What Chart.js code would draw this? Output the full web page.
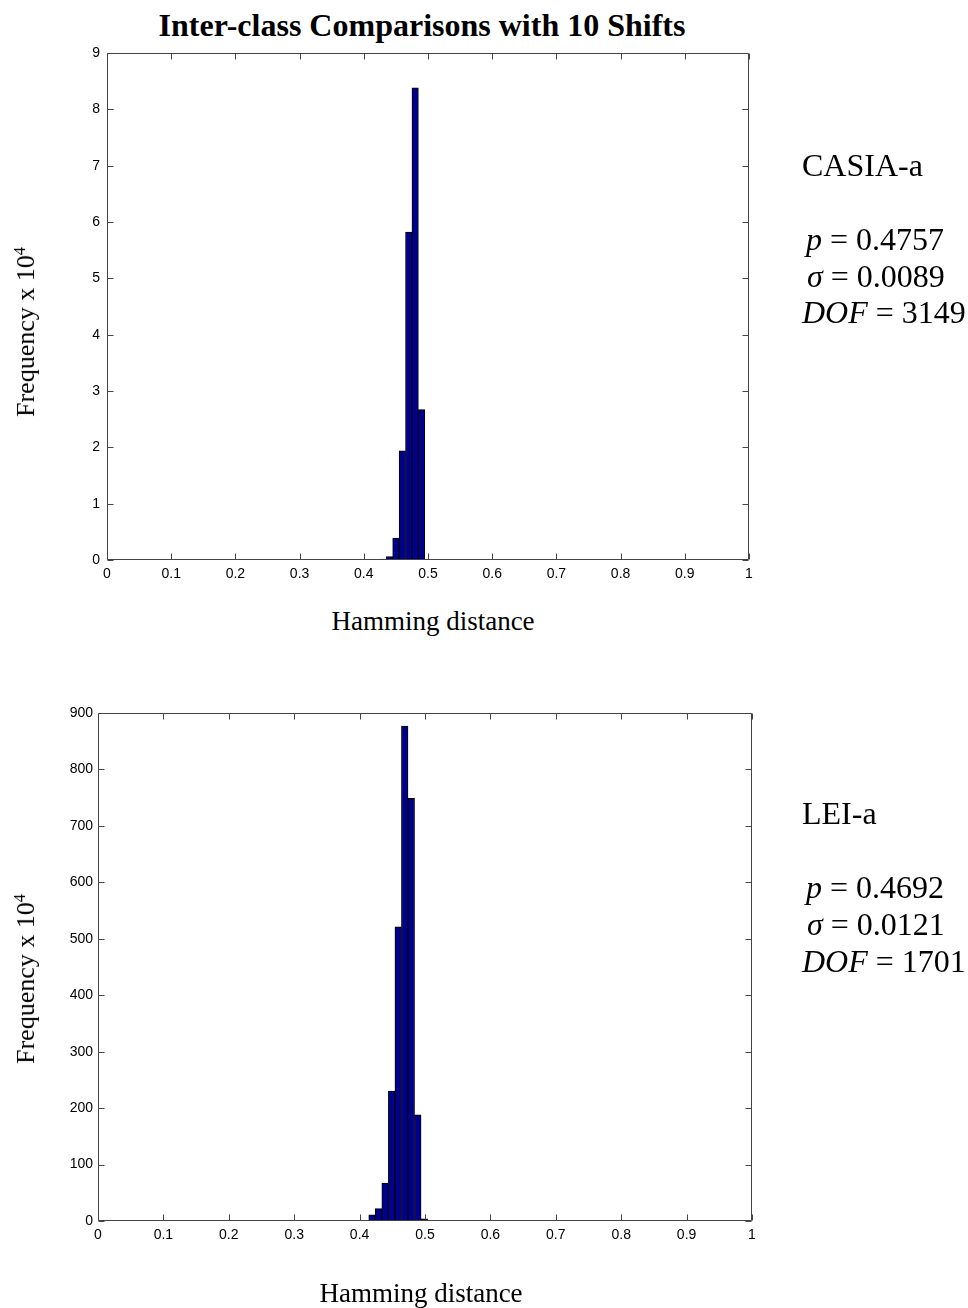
<!DOCTYPE html>
<html>
  <head>
    <meta charset="UTF-8">
    <title>Inter-class Comparisons with 10 Shifts</title>
    <script src="https://cdn.jsdelivr.net/npm/chart.js@4.4.1/dist/chart.umd.min.js"></script>
    <style>
      body { margin: 0; background: #fff; width: 968px; height: 1308px; position: relative; overflow: hidden; color: #000; font-family: "Liberation Serif", "Times New Roman", serif; }
      canvas { position: absolute; left: 0; }
      .txt { position: absolute; white-space: nowrap; line-height: 1; }
      .mid { transform: translate(-50%, -50%); }
      .rot { transform: translate(-50%, -50%) rotate(-90deg); }
      .stat { font-size: 32px; }
      sup { font-size: 0.62em; line-height: 0; vertical-align: 0.55em; }
      i { font-style: italic; }
    </style>
  </head>
  <body>
    <div class="txt mid" style="left:422px; top:25px; font-size:32px; font-weight:bold;">Inter-class Comparisons with 10 Shifts</div>

    <canvas id="casiaChart" width="968" height="600" style="top:0px;"></canvas>
    <canvas id="leiChart" width="968" height="668" style="top:640px;"></canvas>

    <!-- axis titles -->
    <div class="txt rot" style="left:26px; top:332px; font-size:26px;">Frequency x 10<sup>4</sup></div>
    <div class="txt mid" style="left:433px; top:621px; font-size:27px;">Hamming distance</div>
    <div class="txt rot" style="left:26px; top:979px; font-size:26px;">Frequency x 10<sup>4</sup></div>
    <div class="txt mid" style="left:421px; top:1293px; font-size:27px;">Hamming distance</div>

    <!-- stats, top -->
    <div class="txt stat" style="left:802px; top:149px;">CASIA-a</div>
    <div class="txt stat" style="left:806px; top:223px;"><i>p</i> = 0.4757</div>
    <div class="txt stat" style="left:807px; top:260px;"><i>σ</i> = 0.0089</div>
    <div class="txt stat" style="left:802px; top:296px;"><i>DOF</i> = 3149</div>

    <!-- stats, bottom -->
    <div class="txt stat" style="left:802px; top:797px;">LEI-a</div>
    <div class="txt stat" style="left:806px; top:871px;"><i>p</i> = 0.4692</div>
    <div class="txt stat" style="left:807px; top:908px;"><i>σ</i> = 0.0121</div>
    <div class="txt stat" style="left:802px; top:945px;"><i>DOF</i> = 1701</div>

    <script>
      // CASIA-a histogram, frequency in units of 10^4
      const casiaBins = [0.42, 0.43, 0.44, 0.45, 0.46, 0.47, 0.48, 0.49, 0.50];
      const casiaFreq = [0.01, 0.015, 0.06, 0.39, 1.94, 5.82, 8.38, 2.67, 0.01];
      const casiaYMax = 9;
      const casiaYStep = 1;

      // LEI-a histogram
      const leiBins = [0.419, 0.429, 0.439, 0.449, 0.459, 0.469, 0.479, 0.489, 0.499];
      const leiFreq = [11, 22, 67, 230, 521, 877, 749, 188, 4];
      const leiYMax = 900;
      const leiYStep = 100;

      // shared x axis (Hamming distance)
      const xMin = 0, xMax = 1, xStep = 0.1;

      const barColor = '#00008c';
      const axisColor = '#444';
      const tickLen = 6;

      // matlab style box with inward ticks on all four sides
      const boxAxes = {
        id: 'boxAxes',
        afterDraw(chart) {
          const { ctx, chartArea: a } = chart;
          const xs = chart.scales.x, ys = chart.scales.y;
          const l = Math.round(a.left) + 0.5, r = Math.round(a.right) - 0.5;
          const t = Math.round(a.top) + 0.5, b = Math.round(a.bottom) - 0.5;
          ctx.save();
          ctx.strokeStyle = axisColor;
          ctx.lineWidth = 1;
          ctx.beginPath();
          ctx.rect(l, t, r - l, b - t);
          xs.ticks.forEach((tk, i) => {
            const px = Math.round(xs.getPixelForTick(i)) + 0.5;
            ctx.moveTo(px, b); ctx.lineTo(px, b - tickLen);
            ctx.moveTo(px, t); ctx.lineTo(px, t + tickLen);
          });
          ys.ticks.forEach((tk, i) => {
            const py = Math.round(ys.getPixelForTick(i)) + 0.5;
            ctx.moveTo(l, py); ctx.lineTo(l + tickLen, py);
            ctx.moveTo(r, py); ctx.lineTo(r - tickLen, py);
          });
          ctx.stroke();
          ctx.restore();
        }
      };

      function makeHist(id, bins, freq, yMax, yStep, pad, yPad) {
        const tickFont = { family: '"Liberation Sans", Arial, sans-serif', size: 14 };
        return new Chart(document.getElementById(id), {
          type: 'bar',
          data: {
            datasets: [{
              data: bins.map((b, i) => ({ x: b, y: freq[i] })),
              backgroundColor: barColor,
              borderColor: '#000',
              borderWidth: 1,
              barPercentage: 1,
              categoryPercentage: 1
            }]
          },
          options: {
            responsive: false,
            animation: false,
            layout: { padding: pad },
            plugins: { legend: { display: false }, tooltip: { enabled: false } },
            scales: {
              x: {
                type: 'linear',
                offset: false,
                min: xMin,
                max: xMax,
                grid: { display: false, drawTicks: false },
                border: { display: false },
                ticks: {
                  stepSize: xStep,
                  autoSkip: false,
                  maxRotation: 0,
                  padding: 6,
                  color: '#000',
                  font: tickFont,
                  callback: v => String(Math.round(v * 10) / 10)
                },
                afterFit(scale) { scale.height = 25; }
              },
              y: {
                min: 0,
                max: yMax,
                grid: { display: false, drawTicks: false },
                border: { display: false },
                ticks: { stepSize: yStep, padding: yPad, color: '#000', font: tickFont },
                afterFit(scale) { scale.width = 40; }
              }
            }
          },
          plugins: [boxAxes]
        });
      }

      makeHist('casiaChart', casiaBins, casiaFreq, casiaYMax, casiaYStep,
        { left: 67, right: 219, top: 53, bottom: 15 }, 7);
      makeHist('leiChart', leiBins, leiFreq, leiYMax, leiYStep,
        { left: 58, right: 216, top: 73, bottom: 62 }, 5);
    </script>
  </body>
</html>
